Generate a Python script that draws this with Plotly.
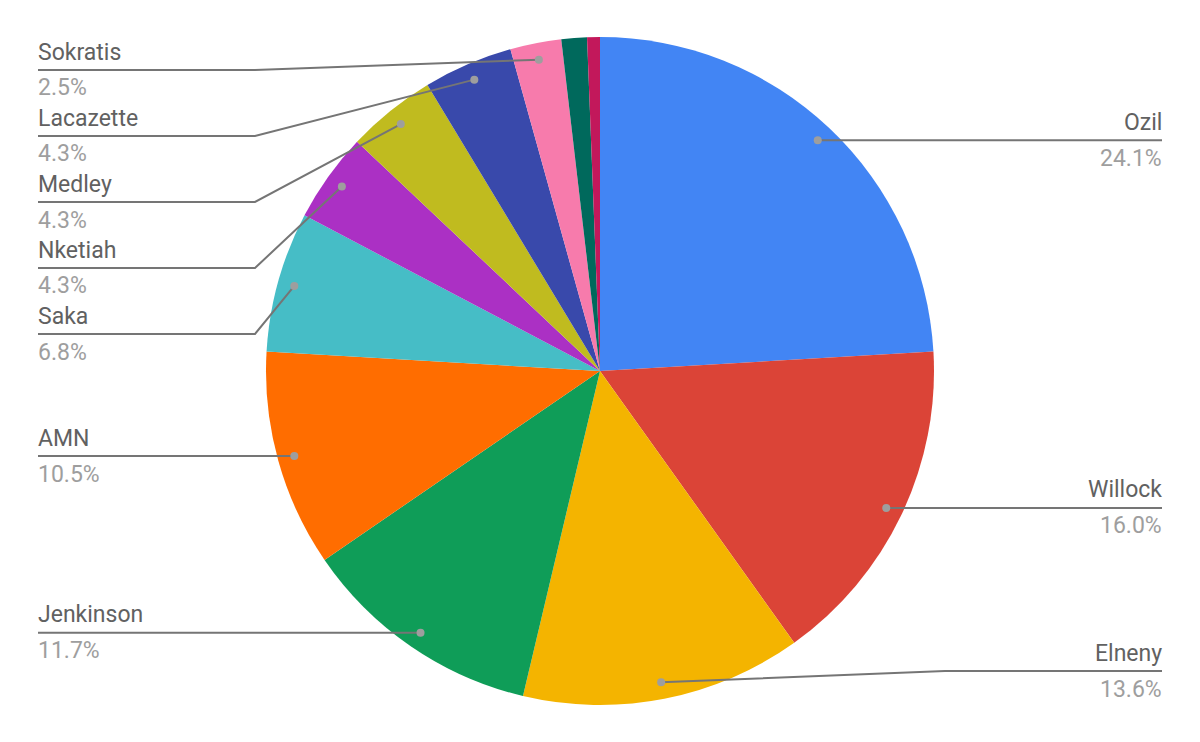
import math
import plotly.graph_objects as go

players = ["Ozil", "Willock", "Elneny", "Jenkinson", "AMN", "Saka", "Nketiah",
           "Medley", "Lacazette", "Sokratis", "Other A", "Other B"]
counts = [39, 26, 22, 19, 17, 11, 7, 7, 7, 4, 2, 1]
colors = ["#4285F4", "#DB4437", "#F4B400", "#0F9D58", "#FF6D00", "#46BDC6",
          "#AB30C4", "#C0BB1F", "#3949AB", "#F77BAC", "#00695C", "#C2185B"]

W, H = 1200, 742
CX, CY, R = 600, 371, 334
LINE_C = "#757575"
DOT_C = "#9E9E9E"
NAME_C = "#616161"
PCT_C = "#9E9E9E"
FONT = "Roboto"
FS = 23

fig = go.Figure(go.Pie(
    labels=players, values=counts, sort=False, direction="clockwise", rotation=0,
    marker=dict(colors=colors, line=dict(width=0)), textinfo="none",
    hoverinfo="label+percent",
    domain=dict(x=[(CX - R) / W, (CX + R) / W], y=[1 - (CY + R) / H, 1 - (CY - R) / H]),
    showlegend=False,
))

def px(x):
    return x / W

def py(y):
    return 1 - y / H

total = sum(counts)
cum = 0
items = []
for name, v in zip(players, counts):
    frac = v / total
    th = 2 * math.pi * (cum + v / 2) / total
    cum += v
    pct = 100 * frac
    if pct < 2:
        continue
    dx = CX + 0.95 * R * math.sin(th)
    dy = CY - 0.95 * R * math.cos(th)
    items.append(dict(name=name, pct=pct, th=th, dx=dx, dy=dy,
                      right=th < math.pi))

GAP, TOP, BOT = 66, 70, 671
left = sorted([it for it in items if not it["right"]], key=lambda d: d["dy"])
prev = -1e9
for it in left:
    it["ly"] = max(it["dy"], prev + GAP, TOP)
    prev = it["ly"]
right = sorted([it for it in items if it["right"]], key=lambda d: -d["dy"])
nxt = 1e9
for it in right:
    it["ly"] = min(it["dy"], nxt - GAP, BOT)
    nxt = it["ly"]

shapes = []
annotations = []
XL, XR, EL, ER = 38, 1162, 255, 945
for it in items:
    if it["right"]:
        xe, xend, anchor, xt, xs = ER, XR, "right", XR, 2
    else:
        xe, xend, anchor, xt, xs = EL, XL, "left", XL, -2
    ly = it["ly"]
    if abs(ly - it["dy"]) < 0.5:
        path = f"M {px(it['dx'])},{py(ly)} L {px(xend)},{py(ly)}"
    else:
        path = (f"M {px(it['dx'])},{py(it['dy'])} L {px(xe)},{py(ly)} "
                f"L {px(xend)},{py(ly)}")
    shapes.append(dict(type="path", xref="paper", yref="paper", path=path,
                       line=dict(color=LINE_C, width=2)))
    rr = 4
    shapes.append(dict(type="circle", xref="paper", yref="paper",
                       x0=px(it["dx"] - rr), x1=px(it["dx"] + rr),
                       y0=py(it["dy"] + rr), y1=py(it["dy"] - rr),
                       fillcolor=DOT_C, line=dict(width=0)))
    annotations.append(dict(x=px(xt), y=py(ly - 18), xref="paper", yref="paper",
                            text=it["name"], showarrow=False, xanchor=anchor,
                            yanchor="middle", xshift=xs,
                            font=dict(family=FONT, size=FS, color=NAME_C)))
    annotations.append(dict(x=px(xt), y=py(ly + 18), xref="paper", yref="paper",
                            text=f"{it['pct']:.1f}%", showarrow=False,
                            xanchor=anchor, yanchor="middle", xshift=xs,
                            font=dict(family=FONT, size=FS, color=PCT_C)))

fig.update_layout(
    width=W, height=H, margin=dict(l=0, r=0, t=0, b=0),
    paper_bgcolor="white", plot_bgcolor="white",
    shapes=shapes, annotations=annotations,
    font=dict(family=FONT),
)

fig.write_html("out.html", config={"displayModeBar": False},
               post_script="document.body.style.margin='0';document.body.style.overflow='hidden';")
